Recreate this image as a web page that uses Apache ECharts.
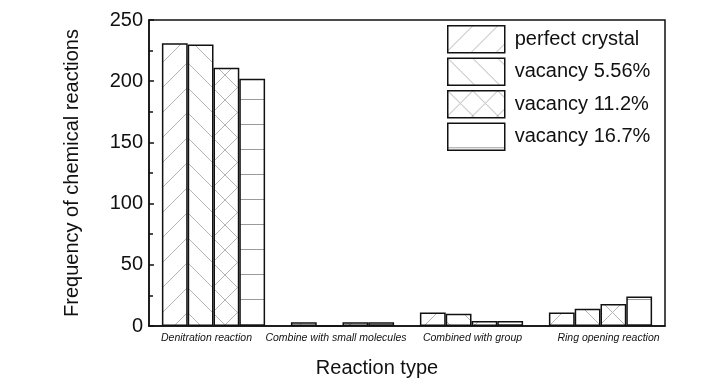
<!DOCTYPE html>
<html>
<head>
<meta charset="utf-8">
<script src="https://cdn.jsdelivr.net/npm/echarts@6/dist/echarts.min.js"></script>
<style>
html,body{margin:0;padding:0;background:#fff;}
#chart{width:728px;height:390px;}
</style>
</head>
<body>
<div id="chart"></div>
<script>
const categories = ['Denitration reaction', 'Combine with small molecules', 'Combined with group', 'Ring opening reaction'];
const seriesNames = ['perfect crystal', 'vacancy 5.56%', 'vacancy 11.2%', 'vacancy 16.7%'];
const perfectCrystal = [231, 3, 11, 11];
const vacancy556 = [230, 0, 10, 14];
const vacancy112 = [211, 3, 4, 18];
const vacancy167 = [202, 3, 4, 24];
const yTicks = [0, 50, 100, 150, 200, 250];

const seriesValues = [perfectCrystal, vacancy556, vacancy112, vacancy167];
const hatchTypes = ['/', '\\', 'x', '-'];
const labelShift = ['s0', 's1', 's2', 's3'];

function makePattern(type) {
  const s = 25;
  const c = document.createElement('canvas');
  c.width = s; c.height = s;
  const ctx = c.getContext('2d');
  ctx.fillStyle = '#ffffff';
  ctx.fillRect(0, 0, s, s);
  ctx.strokeStyle = type === '-' ? '#9a9a9a' : '#b4b4b4';
  ctx.lineWidth = 1;
  function line(x1, y1, x2, y2) {
    ctx.beginPath(); ctx.moveTo(x1, y1); ctx.lineTo(x2, y2); ctx.stroke();
  }
  if (type === '/' || type === 'x') {
    line(0, s, s, 0); line(-2, 2, 2, -2); line(s - 2, s + 2, s + 2, s - 2);
  }
  if (type === '\\' || type === 'x') {
    line(0, 0, s, s); line(-2, s - 2, 2, s + 2); line(s - 2, -2, s + 2, 2);
  }
  if (type === '-') {
    line(0, s - 0.5, s, s - 0.5);
  }
  return { image: c, repeat: 'repeat' };
}

const chart = echarts.init(document.getElementById('chart'), null, { renderer: 'canvas' });
const font = '"Liberation Sans", Arial, sans-serif';

const option = {
  animation: false,
  backgroundColor: '#ffffff',
  grid: {
    left: 149, right: 63, top: 20, bottom: 64,
    show: true, borderColor: '#111', borderWidth: 1.5, backgroundColor: 'transparent'
  },
  legend: {
    orient: 'vertical',
    left: 442, top: 20,
    itemWidth: 57, itemHeight: 27, itemGap: 4,
    icon: 'rect',
    data: seriesNames,
    textStyle: { fontFamily: font, fontSize: 20, color: '#111', padding: [0, 0, 0, 5] },
    itemStyle: { borderColor: '#111', borderWidth: 1.5 }
  },
  xAxis: {
    type: 'category',
    data: categories,
    name: 'Reaction type',
    nameLocation: 'middle',
    nameGap: 32,
    nameTextStyle: { fontFamily: font, fontSize: 20, color: '#111', padding: [0, 60, 0, 0] },
    axisLine: { lineStyle: { color: '#111', width: 1.5 } },
    axisTick: { show: false },
    axisLabel: {
      interval: 0, margin: 7, color: '#111',
      fontFamily: font, fontSize: 10.5, fontStyle: 'italic',
      formatter: function (v, i) { return '{' + labelShift[i] + '|' + v + '}'; },
      rich: {
        s0: { fontFamily: font, fontSize: 10.5, fontStyle: 'italic', color: '#111', padding: [0, 14, 0, 0] },
        s1: { fontFamily: font, fontSize: 10.5, fontStyle: 'italic', color: '#111', padding: [0, 13, 0, 0] },
        s2: { fontFamily: font, fontSize: 10.5, fontStyle: 'italic', color: '#111', padding: [0, 0, 0, 2] },
        s3: { fontFamily: font, fontSize: 10.5, fontStyle: 'italic', color: '#111', padding: [0, 0, 0, 16] }
      }
    },
    splitLine: { show: false }
  },
  yAxis: {
    type: 'value',
    min: yTicks[0], max: yTicks[yTicks.length - 1], interval: yTicks[1] - yTicks[0],
    name: 'Frequency of chemical reactions',
    nameLocation: 'middle',
    nameGap: 67,
    nameTextStyle: { fontFamily: font, fontSize: 20, color: '#111' },
    axisLine: { show: true, lineStyle: { color: '#111', width: 1.5 } },
    axisTick: { show: true, inside: true, length: 5, lineStyle: { color: '#111', width: 1.5 } },
    minorTick: { show: true, splitNumber: 2, length: 4, lineStyle: { color: '#111', width: 1.5 } },
    axisLabel: { fontFamily: font, fontSize: 20, color: '#111', margin: 6 },
    splitLine: { show: false }
  },
  series: seriesNames.map(function (name, k) {
    return {
      name: name,
      type: 'bar',
      data: seriesValues[k],
      barGap: '0%',
      barCategoryGap: '20%',
      itemStyle: { color: makePattern(hatchTypes[k]), borderColor: '#111', borderWidth: 1.5 },
      emphasis: { disabled: true }
    };
  })
};
chart.setOption(option);
</script>
</body>
</html>
